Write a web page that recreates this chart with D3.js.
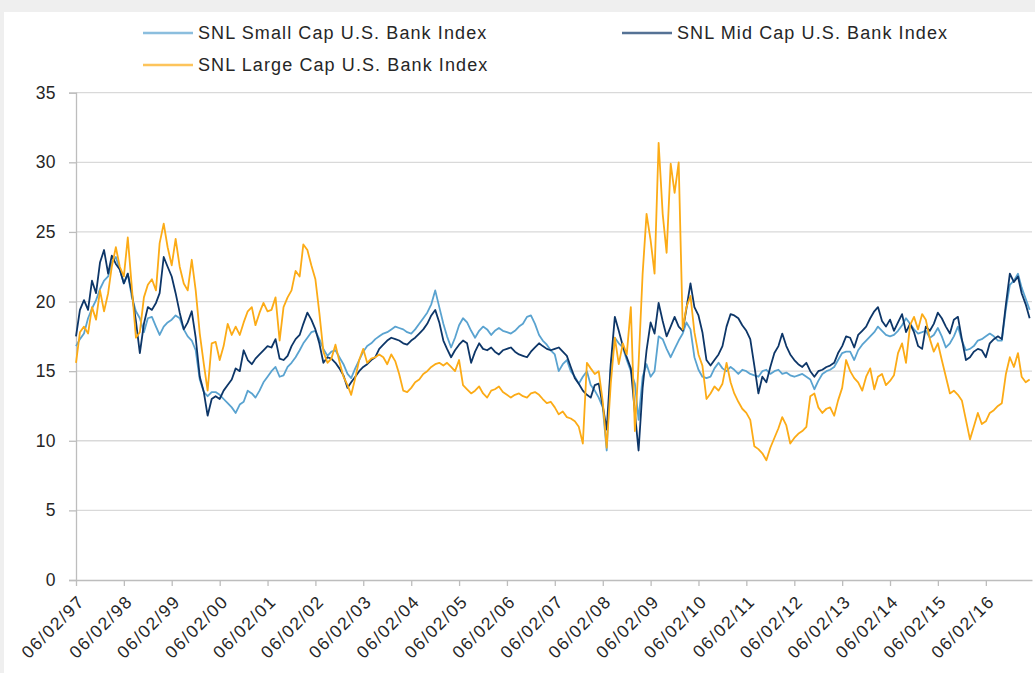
<!DOCTYPE html>
<meta charset="utf-8">
<style>
    body { margin: 0; background: #efefef; }
    svg { display: block; }
    text { font-family: "Liberation Sans", Arial, sans-serif; fill: #262626; }
    .grid line { stroke: #d9d9d9; stroke-width: 1.3px; }
    .axis path, .axis line { stroke: #bdbdbd; stroke-width: 1.3px; }
    .series { fill: none; stroke-width: 1.8px; stroke-linejoin: round; }
</style>
<svg width="1035" height="673"></svg>
<script src="https://cdn.jsdelivr.net/npm/d3@7"></script>
<script>

    // monthly readings, starting 06/02/97 (one row = one year, Jun..May)
    const START = new Date(1997, 5, 2);

    const smallCap = [
        16.8, 17.3, 17.7, 18.8, 19.5, 20.1, 20.9, 21.5, 21.8, 22.8, 23.2, 22.3,
        21.3, 22.0, 20.3, 19.3, 18.8, 17.8, 18.8, 18.9, 18.2, 17.6, 18.2, 18.5,
        18.7, 19.0, 18.8, 18.0, 17.5, 17.2, 16.5, 14.4, 13.5, 13.2, 13.5, 13.5,
        13.3, 13.0, 12.7, 12.4, 12.0, 12.6, 12.8, 13.6, 13.4, 13.1, 13.6, 14.2,
        14.6, 15.0, 15.3, 14.6, 14.7, 15.3, 15.6, 16.0, 16.5, 17.0, 17.4, 17.8,
        17.9, 17.3, 16.6, 16.1, 16.4, 16.5, 16.0, 15.5, 14.8, 14.5, 15.2, 15.8,
        16.4, 16.8, 17.0, 17.3, 17.5, 17.7, 17.8, 18.0, 18.2, 18.1, 18.0, 17.8,
        17.7, 18.0, 18.4, 18.8, 19.2, 19.8, 20.8, 19.6, 18.4, 17.5, 16.7, 17.4,
        18.3, 18.8, 18.5, 17.9, 17.4, 17.9, 18.2, 18.0, 17.6, 17.9, 18.1, 17.9,
        17.8, 17.7, 17.9, 18.2, 18.4, 18.9, 19.0, 18.4, 17.6, 17.2, 16.9, 16.5,
        16.2, 15.0, 15.5, 15.8, 15.0, 14.6, 14.1, 14.6, 15.0, 14.0, 13.6, 13.1,
        12.4, 9.3, 15.5, 17.4, 17.0, 16.7, 15.8, 15.0, 14.1, 11.5, 14.6, 15.5,
        14.6, 15.0, 17.5, 17.3, 16.6, 16.0, 16.6, 17.2, 17.7, 18.5, 18.0, 16.0,
        15.1, 14.6, 14.5, 14.6, 15.2, 15.6, 15.2, 15.0, 15.3, 15.1, 14.8, 15.1,
        15.0, 14.8, 14.7, 14.6, 15.0, 15.1, 14.8, 15.0, 15.1, 14.8, 14.9, 14.7,
        14.6, 14.7, 14.8, 14.6, 14.4, 13.7, 14.3, 14.8, 15.0, 15.1, 15.3, 15.8,
        16.3, 16.4, 16.4, 15.8, 16.5, 16.9, 17.2, 17.5, 17.8, 18.2, 17.9, 17.6,
        17.5, 17.6, 17.9, 18.3, 18.8, 18.4, 18.0, 17.7, 17.8, 17.9, 17.4, 17.6,
        18.1, 17.5, 16.7, 17.0, 17.5, 18.2, 17.2, 16.5, 16.6, 16.8, 17.2, 17.3,
        17.5, 17.7, 17.5, 17.2, 17.2, 19.5, 21.2, 21.5, 22.0, 21.0, 20.2, 19.4
    ];

    const midCap = [
        17.5, 19.4, 20.1, 19.4, 21.5, 20.6, 22.8, 23.7, 22.0, 23.3, 22.7, 22.3,
        21.3, 22.0, 20.6, 18.6, 16.3, 18.4, 19.6, 19.4, 19.9, 20.6, 23.2, 22.5,
        21.8, 20.6, 19.2, 18.0, 18.5, 19.3, 17.4, 14.6, 13.5, 11.8, 13.0, 13.2,
        13.0, 13.6, 14.0, 14.4, 15.2, 15.0, 16.5, 15.8, 15.5, 15.9, 16.2, 16.5,
        16.8, 16.7, 17.3, 15.9, 15.8, 16.1, 16.8, 17.3, 17.6, 18.4, 19.2, 18.7,
        18.0, 17.0, 15.6, 16.0, 15.9, 15.6, 15.2, 14.7, 13.8, 14.2, 14.6, 15.0,
        15.3, 15.5, 15.8, 16.0, 16.6, 16.9, 17.2, 17.4, 17.3, 17.2, 17.0, 16.9,
        17.2, 17.4, 17.7, 18.0, 18.4, 19.0, 19.4, 18.5, 17.2, 16.6, 16.0, 16.5,
        16.9, 17.2, 17.0, 15.6, 16.4, 17.0, 16.6, 16.5, 16.7, 16.4, 16.2, 16.5,
        16.6, 16.7, 16.4, 16.2, 16.1, 16.0, 16.4, 16.7, 17.0, 16.8, 16.6, 16.5,
        16.6, 16.7, 16.4, 16.1, 15.3, 14.5, 14.1, 13.6, 13.3, 13.1, 14.0, 14.1,
        12.5, 10.8, 15.5, 18.9, 17.9, 16.8, 16.0, 15.2, 12.0, 9.3, 13.8, 16.5,
        18.5, 17.7, 19.9, 18.6, 17.5, 18.2, 18.9, 18.2, 17.9, 19.5, 21.3, 19.6,
        19.0, 17.8, 15.8, 15.4, 15.8, 16.2, 16.8, 18.2, 19.1, 19.0, 18.8, 18.3,
        17.9, 17.3, 15.4, 13.4, 14.6, 14.2, 15.3, 16.3, 16.8, 17.7, 16.8, 16.2,
        15.8, 15.5, 15.3, 15.6, 15.0, 14.6, 15.0, 15.1, 15.3, 15.4, 15.6, 16.3,
        16.8, 17.5, 17.4, 16.7, 17.6, 17.9, 18.2, 18.8, 19.3, 19.6, 18.6, 18.2,
        18.7, 17.9, 18.5, 19.1, 17.8, 18.4, 17.8, 16.8, 16.6, 18.2, 17.9, 18.4,
        19.2, 18.8, 18.2, 17.7, 18.7, 18.9, 17.3, 15.8, 16.0, 16.4, 16.6, 16.5,
        16.0, 17.0, 17.3, 17.5, 17.3, 19.8, 22.0, 21.4, 21.8, 20.6, 19.8, 18.8
    ];

    const largeCap = [
        15.6, 17.8, 18.2, 17.7, 19.6, 18.7, 20.8, 19.3, 20.6, 22.5, 23.9, 22.5,
        21.8, 24.6, 21.0, 17.4, 17.8, 20.3, 21.2, 21.6, 20.8, 24.2, 25.6, 23.9,
        22.6, 24.5, 22.5, 21.3, 20.8, 23.0, 20.8, 17.7, 15.5, 13.6, 17.0, 17.1,
        15.8, 16.8, 18.4, 17.6, 18.2, 17.6, 18.5, 19.3, 19.6, 18.3, 19.2, 19.9,
        19.3, 19.4, 20.3, 17.2, 19.6, 20.3, 20.8, 22.2, 21.8, 24.1, 23.7, 22.6,
        21.6, 19.2, 16.4, 15.6, 15.9, 16.9, 15.7, 14.6, 14.0, 13.3, 14.5, 15.8,
        16.6, 15.6, 15.9, 16.0, 16.2, 16.0, 15.5, 16.2, 15.7, 14.8, 13.6, 13.5,
        13.8, 14.2, 14.4, 14.8, 15.0, 15.3, 15.5, 15.6, 15.4, 15.6, 15.3, 15.0,
        15.8, 14.0, 13.7, 13.4, 13.6, 13.9, 13.4, 13.1, 13.6, 13.7, 13.9, 13.5,
        13.3, 13.1, 13.3, 13.4, 13.2, 13.1, 13.4, 13.5, 13.3, 13.0, 12.7, 12.8,
        12.4, 11.9, 12.1, 11.7, 11.6, 11.4, 11.0, 9.8, 15.6, 15.2, 14.8, 15.0,
        12.8, 9.5, 14.1, 17.4, 15.5, 17.0, 16.2, 19.6, 10.7, 15.5, 22.0, 26.3,
        24.4, 22.0, 31.4, 26.3, 23.5, 29.9, 27.8, 30.0, 18.0, 19.6, 20.4, 17.8,
        16.2, 15.4, 13.0, 13.4, 13.9, 13.6, 14.1, 15.6, 14.2, 13.4, 12.8, 12.3,
        12.0, 11.5, 9.6, 9.4, 9.1, 8.6, 9.5, 10.2, 10.9, 11.7, 11.1, 9.8,
        10.2, 10.5, 10.7, 11.0, 13.2, 13.4, 12.4, 12.0, 12.3, 12.4, 11.8, 12.9,
        13.8, 15.8, 15.0, 14.5, 14.2, 13.6, 14.6, 15.2, 13.7, 14.6, 14.8, 14.0,
        14.3, 14.7, 16.3, 17.0, 15.6, 18.3, 18.9, 18.0, 19.1, 18.7, 17.3, 16.4,
        17.0, 15.8, 14.6, 13.4, 13.6, 13.3, 12.9, 11.5, 10.1, 11.0, 12.0, 11.2,
        11.4, 12.0, 12.2, 12.5, 12.7, 14.8, 16.0, 15.3, 16.3, 14.6, 14.2, 14.4
    ];

    const seriesNames = ["SNL Small Cap U.S. Bank Index", "SNL Mid Cap U.S. Bank Index", "SNL Large Cap U.S. Bank Index"];
    const seriesColors = ["#5aa3d0", "#0d3668", "#fcab16"];
    const seriesValues = [smallCap, midCap, largeCap];

    const yTicks = [0, 5, 10, 15, 20, 25, 30, 35];
    const tickYears = d3.range(1997, 2017);

    const svg = d3.select("svg"),
        width = +svg.attr("width"),
        height = +svg.attr("height");

    const margin = {left: 76, right: 3, top: 92.7, bottom: 93};

    // white panel
    svg.append("rect")
        .attr("x", 4).attr("y", 12)
        .attr("width", width - 4).attr("height", height - 12)
        .attr("fill", "#fff");

    const x = d3.scaleTime()
        .domain([START, new Date(2017, 4, 20)])
        .range([margin.left, width - margin.right]);

    const y = d3.scaleLinear()
        .domain([0, 35])
        .range([height - margin.bottom, margin.top]);

    // gridlines
    svg.append("g")
        .attr("class", "grid")
        .selectAll("line")
        .data(yTicks.filter(function (d) { return d > 0; }))
        .enter().append("line")
        .attr("x1", margin.left)
        .attr("x2", width - margin.right)
        .attr("y1", function (d) { return y(d); })
        .attr("y2", function (d) { return y(d); });

    // y axis
    const yAxis = svg.append("g")
        .attr("class", "axis")
        .attr("transform", "translate(" + margin.left + ",0)")
        .call(d3.axisLeft(y).tickValues(yTicks).tickSize(7).tickPadding(13));
    yAxis.selectAll("text")
        .style("font-size", "17.5px")
        .style("letter-spacing", "0.4px");

    // x axis
    const xAxis = svg.append("g")
        .attr("class", "axis")
        .attr("transform", "translate(0," + y(0) + ")")
        .call(d3.axisBottom(x)
            .tickValues(tickYears.map(function (yr) { return new Date(yr, 5, 2); }))
            .tickFormat(d3.timeFormat("%m/%d/%y"))
            .tickSize(6)
            .tickSizeOuter(0));
    xAxis.selectAll("text")
        .style("font-size", "17.5px")
        .style("letter-spacing", "1.6px")
        .attr("text-anchor", "end")
        .attr("dx", 0)
        .attr("dy", 0)
        .attr("transform", "translate(3,16) rotate(-45)");

    // lines
    const line = d3.line()
        .x(function (d, i) { return x(d3.timeMonth.offset(START, i)); })
        .y(function (d) { return y(d); });

    svg.append("g")
        .selectAll("path")
        .data(seriesValues)
        .enter().append("path")
        .attr("class", "series")
        .attr("stroke", function (d, i) { return seriesColors[i]; })
        .attr("d", line);

    // legend
    const legendPos = [[143, 33], [622, 33], [143, 65]];
    const legend = svg.append("g")
        .selectAll("g")
        .data(seriesNames)
        .enter().append("g")
        .attr("transform", function (d, i) {
            return "translate(" + legendPos[i][0] + "," + legendPos[i][1] + ")";
        });

    legend.append("line")
        .attr("x1", 0).attr("x2", 50)
        .attr("stroke", function (d, i) { return seriesColors[i]; })
        .attr("stroke-opacity", 0.7)
        .attr("stroke-width", 2.5);

    legend.append("text")
        .attr("x", 55)
        .attr("dy", "0.35em")
        .style("font-size", "18px")
        .style("letter-spacing", "1.1px")
        .text(function (d) { return d; });

</script>
